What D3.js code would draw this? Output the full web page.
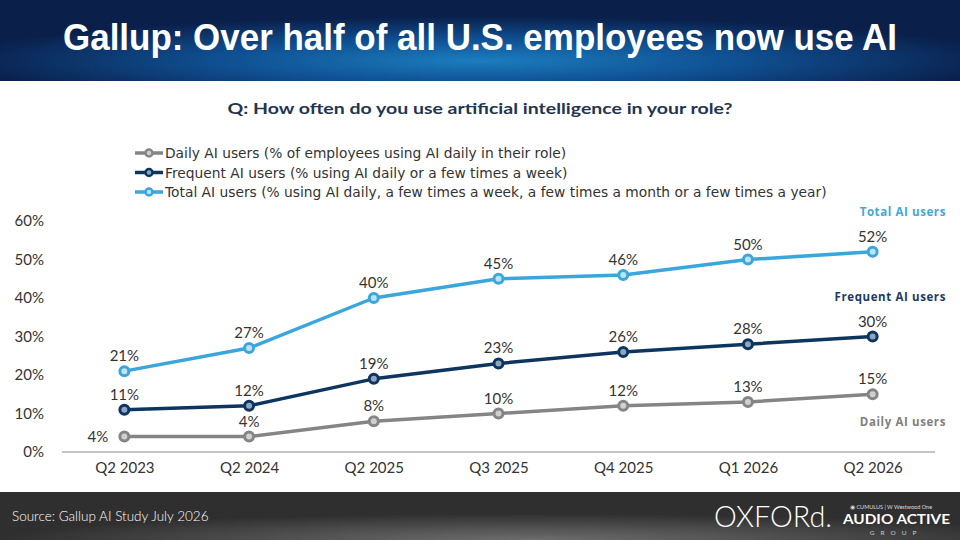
<!DOCTYPE html>
<html>
<head>
<meta charset="utf-8">
<script src="https://cdn.jsdelivr.net/npm/d3@7"></script>
<style>
  body { margin: 0; background: #fff; }
  #chart { width: 960px; height: 540px; }
  text { font-family: Lato, "Open Sans", sans-serif; }
</style>
</head>
<body>
<div id="chart"></div>
<script>
// categories and series (percent)
const quarters = ["Q2 2023", "Q2 2024", "Q2 2025", "Q3 2025", "Q4 2025", "Q1 2026", "Q2 2026"];
const dailyUsers = [4, 4, 8, 10, 12, 13, 15];
const frequentUsers = [11, 12, 19, 23, 26, 28, 30];
const totalUsers = [21, 27, 40, 45, 46, 50, 52];
const yTicks = [0, 10, 20, 30, 40, 50, 60];
const seriesNames = ["Daily AI users", "Frequent AI users", "Total AI users"];
const legendLabels = [
    "Daily AI users  (% of employees using AI daily in their role)",
    "Frequent AI users (% using AI daily or a few times a week)",
    "Total AI users (% using AI daily, a few times a week, a few times a month or a few times a year)"
];

const W = 960, H = 540;
const margin = { top: 221, right: 25, bottom: 88, left: 62 };

const svg = d3.select("#chart").append("svg")
    .attr("width", W)
    .attr("height", H);

const defs = svg.append("defs");

// header gradient
const hg = defs.append("radialGradient")
    .attr("id", "headGrad")
    .attr("cx", "50%").attr("cy", "75%")
    .attr("r", "55%")
    .attr("fx", "50%").attr("fy", "75%");
hg.append("stop").attr("offset", "0%").attr("stop-color", "#1b7dbf");
hg.append("stop").attr("offset", "50%").attr("stop-color", "#0f4f91");
hg.append("stop").attr("offset", "100%").attr("stop-color", "#0a1f4a");

// footer gradient
const fg = defs.append("radialGradient")
    .attr("id", "footGrad")
    .attr("cx", "55%").attr("cy", "100%")
    .attr("r", "55%");
fg.append("stop").attr("offset", "0%").attr("stop-color", "#6d6d6d");
fg.append("stop").attr("offset", "100%").attr("stop-color", "#2f2f2f");

// header
svg.append("rect")
   .attr("x", 0).attr("y", 0)
   .attr("width", W).attr("height", 81)
   .attr("fill", "url(#headGrad)");

svg.append("text")
   .attr("x", 480).attr("y", 50)
   .attr("text-anchor", "middle")
   .attr("fill", "#fff")
   .attr("font-size", 36)
   .attr("font-weight", "bold")
   .attr("textLength", 834)
   .attr("lengthAdjust", "spacingAndGlyphs")
   .style("font-family", "'Liberation Sans', Arial, sans-serif")
   .text("Gallup: Over half of all U.S. employees now use AI");

// question
svg.append("text")
   .attr("x", 480).attr("y", 114)
   .attr("text-anchor", "middle")
   .attr("fill", "#1f3550")
   .attr("font-size", 16)
   .attr("font-weight", "bold")
   .attr("textLength", 505)
   .attr("lengthAdjust", "spacingAndGlyphs")
   .text("Q: How often do you use artificial intelligence in your role?");

// footer
svg.append("rect")
   .attr("x", 0).attr("y", 492)
   .attr("width", W).attr("height", 48)
   .attr("fill", "url(#footGrad)");

svg.append("text")
   .attr("x", 12).attr("y", 521)
   .attr("fill", "#fff")
   .attr("font-size", 13.5)
   .attr("font-weight", 300)
   .text("Source: Gallup AI Study July 2026");

svg.append("text")
   .attr("x", 714).attr("y", 527)
   .attr("fill", "#fff")
   .attr("font-size", 30)
   .attr("font-weight", 300)
   .attr("textLength", 118)
   .attr("lengthAdjust", "spacingAndGlyphs")
   .text("OXFORd.");

svg.append("text")
   .attr("x", 850).attr("y", 509)
   .attr("fill", "#ddd")
   .attr("font-size", 5.5)
   .text("◉ CUMULUS  |  W Westwood One");

svg.append("text")
   .attr("x", 843).attr("y", 524)
   .attr("fill", "#fff")
   .attr("font-size", 14)
   .attr("font-weight", "bold")
   .attr("textLength", 107)
   .attr("lengthAdjust", "spacingAndGlyphs")
   .text("AUDIO ACTIVE");

svg.append("text")
   .attr("x", 896).attr("y", 535)
   .attr("text-anchor", "middle")
   .attr("fill", "#ccc")
   .attr("font-size", 6.5)
   .attr("letter-spacing", 6)
   .text("GROUP");

// scales
const x = d3.scalePoint()
    .domain(quarters)
    .range([margin.left, W - margin.right])
    .padding(0.5);

const y = d3.scaleLinear()
    .domain([0, 60])
    .range([H - margin.bottom, margin.top]);

// y axis labels
svg.append("g")
   .attr("transform", `translate(${margin.left - 15},0)`)
   .call(d3.axisLeft(y).tickValues(yTicks).tickSize(0).tickFormat(d => d + "%"))
   .call(g => g.select(".domain").remove())
   .call(g => g.selectAll("text")
       .attr("font-size", 15)
       .attr("fill", "#333")
       .style("font-family", "Lato, sans-serif"));

// x axis
svg.append("g")
   .attr("transform", `translate(0,${y(0)})`)
   .call(d3.axisBottom(x).tickSize(0).tickSizeOuter(0).tickPadding(10))
   .call(g => g.select(".domain")
       .attr("stroke", "#8a8a8a")
       .attr("d", `M${margin.left},0H${W - margin.right}`))
   .call(g => g.selectAll("text")
       .attr("font-size", 15)
       .attr("fill", "#333")
       .style("font-family", "Lato, sans-serif"));

// series
const series = [
    { name: seriesNames[0], values: dailyUsers, color: "#858585", fill: "#d0d0d0", labelColor: "#808080", tagY: 422 },
    { name: seriesNames[1], values: frequentUsers, color: "#0e3560", fill: "#8fa6c0", labelColor: "#1e3a5f", tagY: 297 },
    { name: seriesNames[2], values: totalUsers, color: "#3aa6dc", fill: "#bfe3f5", labelColor: "#3fa8d8", tagY: 212 }
];

const line = d3.line()
    .x((d, i) => x(quarters[i]))
    .y(d => y(d));

const plot = svg.append("g");

series.forEach(s => {
    plot.append("path")
        .datum(s.values)
        .attr("fill", "none")
        .attr("stroke", s.color)
        .attr("stroke-width", 3.5)
        .attr("stroke-linejoin", "round")
        .attr("d", line);

    plot.selectAll(null)
        .data(s.values)
        .join("circle")
        .attr("cx", (d, i) => x(quarters[i]))
        .attr("cy", d => y(d))
        .attr("r", 4.5)
        .attr("fill", s.fill)
        .attr("stroke", s.color)
        .attr("stroke-width", 3);

    // data labels
    const first = (i) => s.name === "Daily AI users" && i === 0;
    plot.selectAll(null)
        .data(s.values)
        .join("text")
        .attr("x", (d, i) => first(i) ? x(quarters[i]) - 16 : x(quarters[i]))
        .attr("y", (d, i) => first(i) ? y(d) + 5 : y(d) - 10)
        .attr("text-anchor", (d, i) => first(i) ? "end" : "middle")
        .attr("font-size", 15)
        .attr("fill", "#333")
        .text(d => d + "%");

    // series tag on right
    svg.append("text")
       .attr("x", 946).attr("y", s.tagY + 4)
       .attr("text-anchor", "end")
       .attr("font-size", 11.5)
       .attr("font-weight", "bold")
       .attr("letter-spacing", 0.6)
       .attr("fill", s.labelColor)
       .style("font-family", "'Open Sans', sans-serif")
       .text(s.name);
});

// legend
const legend = svg.append("g");
series.forEach((s, i) => {
    const ly = 153 + i * 19.5;
    const row = legend.append("g").attr("transform", `translate(135,${ly})`);
    row.append("line")
       .attr("x1", 0).attr("x2", 28)
       .attr("y1", 0).attr("y2", 0)
       .attr("stroke", s.color)
       .attr("stroke-width", 3.5);
    row.append("circle")
       .attr("cx", 14).attr("cy", 0).attr("r", 3.5)
       .attr("fill", s.fill)
       .attr("stroke", s.color)
       .attr("stroke-width", 2.5);
    row.append("text")
       .attr("x", 30).attr("y", 5)
       .attr("font-size", 13.8)
       .attr("fill", "#333")
       .style("font-family", "'DejaVu Sans', sans-serif")
       .text(legendLabels[i]);
});
</script>
</body>
</html>
